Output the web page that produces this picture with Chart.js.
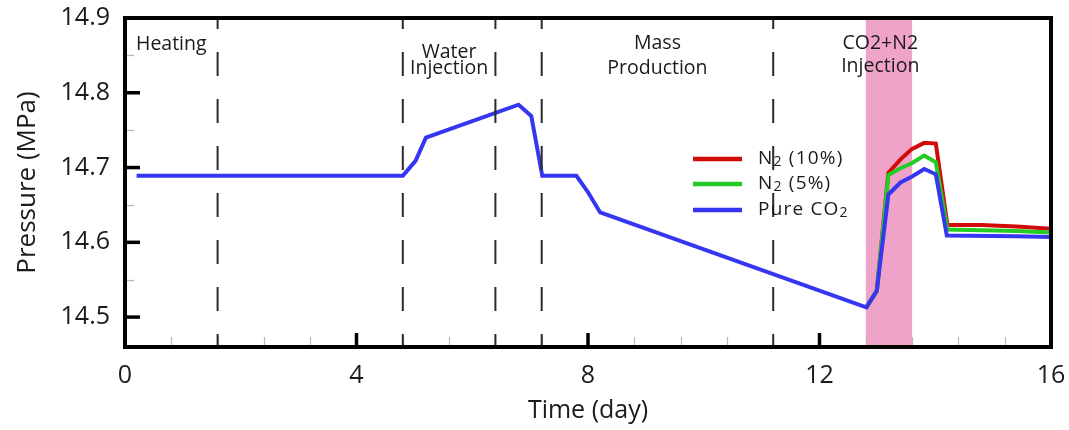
<!DOCTYPE html>
<html>
<head>
<meta charset="utf-8">
<script src="https://cdn.jsdelivr.net/npm/chart.js@4.4.1/dist/chart.umd.min.js"></script>
<style>
    html, body { margin: 0; padding: 0; background: #fff; }
    #wrap { position: relative; width: 1069px; height: 430px; }
</style>
</head>
<body>
<div id="wrap"><canvas id="pressureChart"></canvas></div>
<script>
// ------------------------------------------------------------
// Reservoir pressure history, CO2 vs CO2+N2 injection
// ------------------------------------------------------------

// Pure CO2 case (day, MPa)
const co2Days = [0.2, 4.8, 5.02, 5.2, 6.8, 7.02, 7.21, 7.8, 8.0, 8.21, 12.81, 12.99, 13.19, 13.4, 13.6, 13.81, 14.01, 14.2, 15.4, 16.0];
const co2Pressure = [14.689, 14.689, 14.709, 14.74, 14.784, 14.769, 14.689, 14.689, 14.667, 14.64, 14.513, 14.535, 14.664, 14.68, 14.688, 14.698, 14.691, 14.609, 14.608, 14.607];

// N2 mixtures split off the CO2 curve once injection starts
const mixDays = [12.81, 12.99, 13.19, 13.4, 13.6, 13.81, 14.01, 14.21, 14.8, 15.4, 16.0];
const n2_10Pressure = [14.513, 14.535, 14.693, 14.711, 14.725, 14.733, 14.732, 14.623, 14.623, 14.621, 14.618];
const n2_5Pressure = [14.513, 14.535, 14.69, 14.699, 14.706, 14.716, 14.707, 14.617, 14.616, 14.615, 14.613];

const seriesLabels = ['N2 (10%)', 'N2 (5%)', 'Pure CO2'];
const seriesColors = ['#d20a0a', '#22cc22', '#3636f2'];

const xTicks = [0, 4, 8, 12, 16];
const yTicks = [14.5, 14.6, 14.7, 14.8, 14.9];

// Stage boundaries and names
const stageBounds = [1.6, 4.8, 6.4, 7.2, 11.2];
const stageNames = [['Heating'], ['Water', 'Injection'], ['Mass', 'Production'], ['CO2+N2', 'Injection']];
const stageCenters = [0.8, 5.6, 9.2, 13.05];
const injectionWindow = [12.8, 13.6];

const FONT = "'Open Sans', 'Noto Sans', sans-serif";
const INK = '#1b1b1b';

const toPoints = (xs, ys) => xs.map((x, i) => ({ x, y: ys[i] }));

// label text with a digit right after a letter set as a small subscript
function drawFormula(ctx, text, x, y, size, spacing) {
    let cx = x;
    for (let i = 0; i < text.length; i++) {
        const ch = text[i];
        const sub = /[0-9]/.test(ch) && i > 0 && /[A-Za-z]/.test(text[i - 1]);
        ctx.font = `${sub ? Math.round(size * 0.74) : size}px ${FONT}`;
        ctx.fillText(ch, cx, sub ? y + size * 0.18 : y);
        cx += ctx.measureText(ch).width + spacing;
    }
}

const decorations = {
    id: 'decorations',
    beforeDatasetsDraw(chart) {
        const { ctx, chartArea: a, scales: { x, y } } = chart;
        ctx.save();

        // injection window
        const x0 = x.getPixelForValue(injectionWindow[0]);
        const x1 = x.getPixelForValue(injectionWindow[1]);
        ctx.fillStyle = '#f0a3c8';
        ctx.fillRect(x0, a.top, x1 - x0, a.bottom - a.top);

        // minor ticks
        ctx.strokeStyle = '#b8b8b8';
        ctx.lineWidth = 1.2;
        for (let i = 1; i < 20; i++) {
            if (i % 5 === 0) continue;
            const px = Math.round(x.getPixelForValue(i * 0.8)) + 0.5;
            ctx.beginPath();
            ctx.moveTo(px, a.bottom);
            ctx.lineTo(px, a.bottom - 10);
            ctx.stroke();
        }
        for (let v = 14.55; v < 14.9; v += 0.1) {
            const py = Math.round(y.getPixelForValue(v)) + 0.5;
            ctx.beginPath();
            ctx.moveTo(a.left, py);
            ctx.lineTo(a.left + 9, py);
            ctx.stroke();
        }
        ctx.restore();
    },
    afterDatasetsDraw(chart) {
        const { ctx, chartArea: a, scales: { x, y } } = chart;
        ctx.save();

        // dashed stage boundaries
        ctx.strokeStyle = '#2a2a2a';
        ctx.lineWidth = 2;
        ctx.setLineDash([24, 23]);
        ctx.lineDashOffset = 13;
        stageBounds.forEach(d => {
            const px = x.getPixelForValue(d);
            ctx.beginPath();
            ctx.moveTo(px, a.top);
            ctx.lineTo(px, a.bottom);
            ctx.stroke();
        });
        ctx.setLineDash([]);

        // stage names
        const lineY = [[44], [52, 68], [43, 68], [43, 66]];
        ctx.fillStyle = INK;
        ctx.font = `19.5px ${FONT}`;
        ctx.textAlign = 'center';
        ctx.textBaseline = 'middle';
        stageNames.forEach((lines, i) => {
            const px = x.getPixelForValue(stageCenters[i]);
            lines.forEach((t, j) => ctx.fillText(t, px, lineY[i][j]));
        });

        // legend
        const rows = [159, 184, 210];
        ctx.textAlign = 'left';
        seriesLabels.forEach((label, i) => {
            ctx.strokeStyle = seriesColors[i];
            ctx.lineWidth = 4.5;
            ctx.beginPath();
            ctx.moveTo(693, rows[i]);
            ctx.lineTo(742, rows[i]);
            ctx.stroke();
            ctx.fillStyle = INK;
            drawFormula(ctx, label, 758, rows[i], 19, 1.2);
        });

        // major ticks, pointing inward
        ctx.strokeStyle = '#000';
        ctx.lineWidth = 3.5;
        xTicks.slice(1, -1).forEach(d => {
            const px = x.getPixelForValue(d);
            ctx.beginPath();
            ctx.moveTo(px, a.bottom);
            ctx.lineTo(px, a.bottom - 14);
            ctx.stroke();
        });
        yTicks.slice(0, -1).forEach(v => {
            const py = y.getPixelForValue(v);
            ctx.beginPath();
            ctx.moveTo(a.left, py);
            ctx.lineTo(a.left + 15, py);
            ctx.stroke();
        });

        // frame
        ctx.lineWidth = 4;
        ctx.strokeRect(a.left, a.top, a.right - a.left, a.bottom - a.top);
        ctx.restore();
    }
};

new Chart(document.getElementById('pressureChart'), {
    type: 'line',
    data: {
        datasets: [
            { label: seriesLabels[0], data: toPoints(mixDays, n2_10Pressure), borderColor: seriesColors[0], order: 2 },
            { label: seriesLabels[1], data: toPoints(mixDays, n2_5Pressure), borderColor: seriesColors[1], order: 1 },
            { label: seriesLabels[2], data: toPoints(co2Days, co2Pressure), borderColor: seriesColors[2], order: 0 },
        ]
    },
    options: {
        responsive: true,
        maintainAspectRatio: false,
        animation: false,
        layout: { padding: { left: 0, right: 18, top: 18, bottom: 0 } },
        elements: {
            line: { borderWidth: 4, tension: 0, borderJoinStyle: 'miter', borderCapStyle: 'butt' },
            point: { radius: 0 }
        },
        plugins: { legend: { display: false }, tooltip: { enabled: false } },
        scales: {
            x: {
                type: 'linear',
                min: 0,
                max: 16,
                afterBuildTicks: s => { s.ticks = xTicks.map(v => ({ value: v })); },
                afterFit: s => { s.height = 83; s.paddingLeft = 0; s.paddingRight = 0; },
                grid: { display: false, drawTicks: false },
                border: { display: false },
                ticks: { padding: 14, color: INK, font: { family: FONT, size: 25 } },
                title: { display: true, text: 'Time (day)', color: INK, font: { family: FONT, size: 25 }, padding: { top: 0, bottom: 4 } }
            },
            y: {
                min: 14.46,
                max: 14.9,
                afterBuildTicks: s => { s.ticks = yTicks.map(v => ({ value: v })); },
                afterFit: s => { s.width = 125; s.paddingTop = 0; s.paddingBottom = 0; },
                grid: { display: false, drawTicks: false },
                border: { display: false },
                ticks: { padding: 15, color: INK, font: { family: FONT, size: 25 }, callback: v => v.toFixed(1) },
                title: { display: true, text: 'Pressure (MPa)', color: INK, font: { family: FONT, size: 26 }, padding: { top: 12, bottom: 0 } }
            }
        }
    },
    plugins: [decorations]
});
</script>
</body>
</html>
